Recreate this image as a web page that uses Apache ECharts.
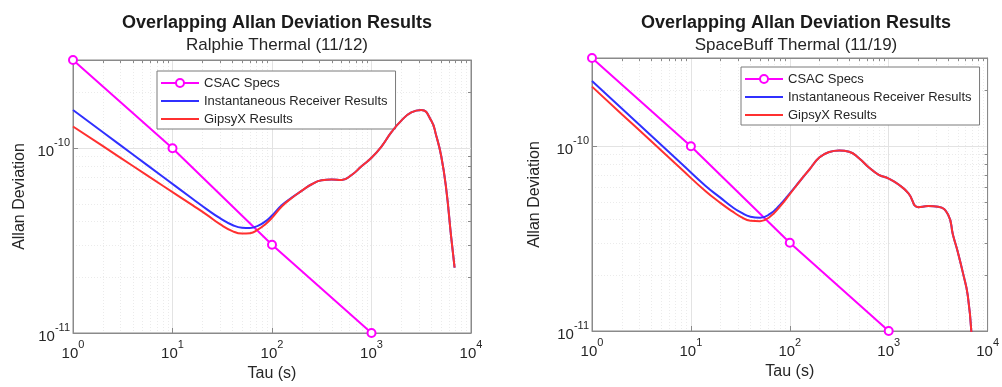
<!DOCTYPE html>
<html>
<head>
<meta charset="utf-8">
<script src="https://cdn.jsdelivr.net/npm/echarts@6/dist/echarts.min.js"></script>
<style>
  html, body { margin: 0; padding: 0; background: #fff; }
  #chart { width: 1002px; height: 387px; }
</style>
</head>
<body>
<div id="chart"></div>
<script>
// ---------------- DATA ----------------
const seriesNames = ['CSAC Specs', 'Instantaneous Receiver Results', 'GipsyX Results'];
const titles = ['Overlapping Allan Deviation Results', 'Overlapping Allan Deviation Results'];
const subtitles = ['Ralphie Thermal (11/12)', 'SpaceBuff Thermal (11/19)'];
const xTickLabels = ['10^0', '10^1', '10^2', '10^3', '10^4'];
const yTickLabels = ['10^-11', '10^-10'];

// CSAC spec points (same on both charts)
const csacTau = [1, 10, 100, 1000];
const csacVal = [3e-10, 1e-10, 3e-11, 1e-11];

// Ralphie Thermal (left) - values in units of 1e-11
const leftTau   = [1, 2, 4, 8, 16, 22, 30, 40, 50, 60, 72, 86, 100, 126, 158, 200, 251, 316, 398, 501, 631, 794, 1000, 1259, 1585, 1995, 2512, 3162, 3981, 4467, 5012, 5623, 6310, 6840];
const leftInst  = [16.1, 12.2, 9.25, 7.0, 5.31, 4.68, 4.18, 3.84, 3.71, 3.70, 3.80, 4.02, 4.32, 4.92, 5.40, 5.89, 6.38, 6.70, 6.76, 6.73, 7.16, 7.98, 8.87, 10.2, 12.2, 14.1, 15.6, 16.1, 14.1, 11.7, 9.1, 6.08, 3.33, 2.26];
const leftGipsy = [13.1, 10.25, 8.01, 6.26, 4.90, 4.37, 3.88, 3.56, 3.45, 3.47, 3.62, 3.88, 4.20, 4.85, 5.38, 5.89, 6.38, 6.70, 6.76, 6.73, 7.16, 7.98, 8.87, 10.2, 12.2, 14.1, 15.6, 16.1, 14.1, 11.7, 9.1, 6.08, 3.33, 2.26];

// SpaceBuff Thermal (right) - values in units of 1e-11
const rightTau   = [1, 2, 4, 8, 14, 20, 26, 32, 40, 50, 63, 79, 100, 126, 158, 200, 251, 316, 398, 501, 631, 794, 1000, 1259, 1585, 1995, 2512, 3162, 3981, 4467, 5012, 5623, 6310, 6900];
const rightInst  = [22.5, 15.98, 11.35, 8.06, 6.11, 5.25, 4.70, 4.38, 4.15, 4.10, 4.30, 4.80, 5.56, 6.46, 7.48, 8.70, 9.30, 9.48, 9.33, 8.60, 7.67, 7.00, 6.68, 6.20, 5.56, 4.68, 4.74, 4.70, 4.27, 3.31, 2.66, 2.07, 1.55, 0.93];
const rightGipsy = [21.0, 14.9, 10.6, 7.52, 5.72, 4.92, 4.45, 4.15, 3.95, 3.93, 4.15, 4.70, 5.50, 6.46, 7.48, 8.70, 9.30, 9.48, 9.33, 8.60, 7.67, 7.00, 6.68, 6.20, 5.56, 4.68, 4.74, 4.70, 4.27, 3.31, 2.66, 2.07, 1.55, 0.93];
const UNIT = 1e-11;

// axis ranges
const xMin = 1, xMax = 1e4;
const yMin = 1e-11, yMax = 3e-10;
// ------------------------------------

const TXT = '#262626';
const AX = '#8a8a8a';
const GRIDC = '#e3e3e3';
const MINC = '#ebebeb';
const FONT = 'Liberation Sans';

const xMinor = [];
for (let d = 1; d < xMax; d *= 10) for (let k = 2; k <= 9; k++) xMinor.push(k * d);
const yMinor = [];
for (let d = yMin; d < yMax; d *= 10) for (let k = 2; k <= 9; k++) if (k * d < yMax * 0.999) yMinor.push(k * d);

function pairs(xs, ys, unit) { return xs.map((x, i) => [x, ys[i] * unit]); }

function powLabel(v) {
  const l = Math.log10(v);
  const e = Math.round(l);
  if (Math.abs(l - e) > 1e-6) return '';
  return '{b|10}{s|' + e + '}';
}
const rich = {
  b: { fontSize: 15, color: TXT, lineHeight: 22, verticalAlign: 'bottom', fontFamily: FONT },
  s: { fontSize: 11, color: TXT, lineHeight: 11, verticalAlign: 'top', fontFamily: FONT }
};

const grids = [
  { left: 73, right: 531, top: 60, bottom: 51, yNameGap: 45 },
  { left: 592, right: 12, top: 58, bottom: 56, yNameGap: 49 }
];

const xAxes = [], yAxes = [], series = [];
grids.forEach((g, i) => {
  xAxes.push({
    gridIndex: i, type: 'log', logBase: 10, min: xMin, max: xMax, position: 'bottom',
    name: 'Tau (s)', nameLocation: 'middle', nameGap: 33,
    nameTextStyle: { fontSize: 16, color: TXT, fontFamily: FONT },
    axisLine: { show: true, lineStyle: { color: AX, width: 1 } },
    axisTick: { show: true, inside: true, length: 5, lineStyle: { color: AX } },
    axisLabel: { formatter: powLabel, rich: rich, margin: 6, showMinLabel: true, showMaxLabel: true },
    splitLine: { show: true, lineStyle: { color: GRIDC, width: 1 } }
  });
  xAxes.push({
    gridIndex: i, type: 'log', logBase: 10, min: xMin, max: xMax, position: 'top',
    axisLine: { show: true, lineStyle: { color: AX, width: 1 } },
    axisTick: { show: true, inside: true, length: 3, customValues: xMinor, lineStyle: { color: AX } },
    axisLabel: { show: false },
    splitLine: { show: true, lineStyle: { color: MINC, width: 1, type: [1, 2] } }
  });
  yAxes.push({
    gridIndex: i, type: 'log', logBase: 10, min: yMin, max: yMax, position: 'left',
    name: 'Allan Deviation', nameLocation: 'middle', nameGap: g.yNameGap, nameRotate: 90,
    nameTextStyle: { fontSize: 16, color: TXT, fontFamily: FONT },
    axisLine: { show: true, lineStyle: { color: AX, width: 1 } },
    axisTick: { show: true, inside: true, length: 5, lineStyle: { color: AX } },
    axisLabel: { formatter: powLabel, rich: rich, margin: 3 },
    splitLine: { show: true, lineStyle: { color: GRIDC, width: 1 } }
  });
  yAxes.push({
    gridIndex: i, type: 'log', logBase: 10, min: yMin, max: yMax, position: 'right',
    axisLine: { show: true, lineStyle: { color: AX, width: 1 } },
    axisTick: { show: true, inside: true, length: 3, customValues: yMinor, lineStyle: { color: AX } },
    axisLabel: { show: false },
    splitLine: { show: true, lineStyle: { color: MINC, width: 1, type: [1, 2] } }
  });
});

const sets = [
  { tau: leftTau, inst: leftInst, gipsy: leftGipsy },
  { tau: rightTau, inst: rightInst, gipsy: rightGipsy }
];
sets.forEach((s, i) => {
  const common = { xAxisIndex: 2 * i, yAxisIndex: 2 * i, type: 'line', animation: false };
  series.push(Object.assign({}, common, {
    name: seriesNames[0], data: pairs(csacTau, csacVal, 1),
    symbol: 'emptyCircle', symbolSize: 8, showAllSymbol: true,
    itemStyle: { color: '#ff00ff', borderWidth: 1.5 },
    lineStyle: { color: '#ff00ff', width: 2 }, clip: false, z: 3
  }));
  series.push(Object.assign({}, common, {
    name: seriesNames[1], data: pairs(s.tau, s.inst, UNIT), symbol: 'none',
    smooth: 0.5, itemStyle: { color: '#3030ff' },
    lineStyle: { color: '#3030ff', width: 2 }, z: 4
  }));
  series.push(Object.assign({}, common, {
    name: seriesNames[2], data: pairs(s.tau, s.gipsy, UNIT), symbol: 'none',
    smooth: 0.5, itemStyle: { color: '#ff3030' },
    lineStyle: { color: '#ff3030', width: 2 }, z: 5
  }));
});

const legendCommon = {
  orient: 'vertical',
  data: [
    { name: seriesNames[0] },
    { name: seriesNames[1], itemStyle: { opacity: 0 } },
    { name: seriesNames[2], itemStyle: { opacity: 0 } }
  ],
  backgroundColor: '#fff',
  borderColor: '#7a7a7a', borderWidth: 1, borderRadius: 0,
  padding: [5, 8, 3, 3], itemGap: 4, itemWidth: 38, itemHeight: 10,
  textStyle: { fontSize: 13, color: TXT, fontFamily: FONT, lineHeight: 14 }, selectedMode: false
};

const option = {
  animation: false,
  backgroundColor: '#fff',
  title: [0, 1].map(i => ({
    text: titles[i], subtext: subtitles[i],
    left: i === 0 ? 272 : 791, top: 9, textAlign: 'center', itemGap: 5,
    textStyle: { fontSize: 18, fontWeight: 'bold', color: '#1a1a1a', fontFamily: FONT },
    subtextStyle: { fontSize: 17, color: TXT, fontFamily: FONT }
  })),
  legend: [
    Object.assign({}, legendCommon, { left: 157, top: 71 }),
    Object.assign({}, legendCommon, { left: 741, top: 67 })
  ],
  grid: grids.map(g => ({ left: g.left, right: g.right, top: g.top, bottom: g.bottom, show: true, borderColor: AX, borderWidth: 1, backgroundColor: 'transparent', containLabel: false })),
  xAxis: xAxes,
  yAxis: yAxes,
  series: series
};

const chart = echarts.init(document.getElementById('chart'), null, { renderer: 'canvas' });
chart.setOption(option);
</script>
</body>
</html>
